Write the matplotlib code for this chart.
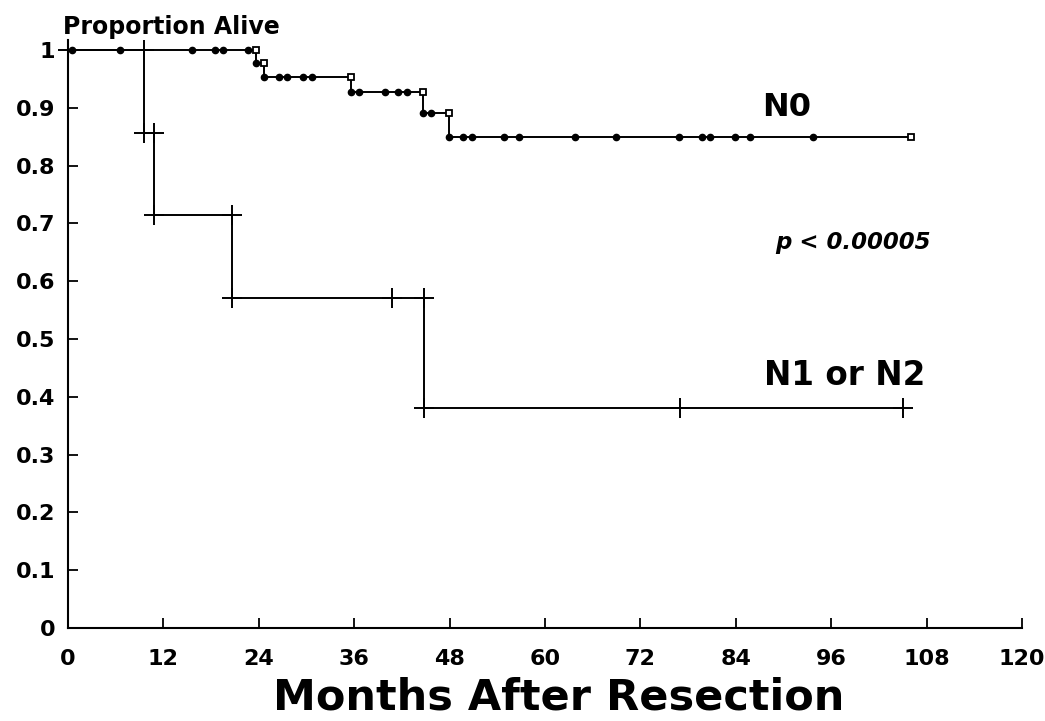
import numpy as np
import matplotlib
matplotlib.use("Agg")
import matplotlib.pyplot as plt

# ---------------- data ----------------
month_ticks = [0, 12, 24, 36, 48, 60, 72, 84, 96, 108, 120]
surv_ticks = [0, 0.1, 0.2, 0.3, 0.4, 0.5, 0.6, 0.7, 0.8, 0.9, 1.0]
surv_tick_labels = ["0", "0.1", "0.2", "0.3", "0.4", "0.5", "0.6", "0.7", "0.8", "0.9", "1"]

# N0 group: Kaplan-Meier steps
n0_times = [0.0, 23.6, 24.7, 35.6, 44.7, 47.9]
n0_surv = [1.0, 0.977, 0.953, 0.928, 0.891, 0.849]
n0_last_followup = 106.0
n0_censored = [0.5, 6.6, 15.6, 18.5, 19.5, 22.6, 23.6, 24.7, 26.5, 27.5, 29.6, 30.7,
               35.6, 36.6, 39.9, 41.5, 42.6, 44.7, 45.7, 47.9, 49.7, 50.8, 54.9, 56.7,
               63.8, 68.9, 76.9, 79.8, 80.8, 83.9, 85.8, 93.7]

# N1 or N2 group
n1_times = [0.0, 9.6, 10.8, 20.6, 44.8]
n1_surv = [1.0, 0.857, 0.714, 0.571, 0.381]
n1_last_followup = 105.0
n1_censored = [40.8, 77.0, 105.0]

label_n0 = "N0"
label_n1 = "N1 or N2"
p_text = "p < 0.00005"
y_title = "Proportion Alive"
x_title = "Months After Resection"


def km_value(times, surv, t):
    idx = np.searchsorted(np.asarray(times), t, side="right") - 1
    return np.asarray(surv)[idx]


# ---------------- figure ----------------
fig = plt.figure(figsize=(10.45, 7.21), dpi=100)
ax = fig.add_axes([68 / 1045, 93 / 721, 954 / 1045, 588 / 721])
ax.set_xlim(0, 120)
ax.set_ylim(0, 1.0173)

lw = 1.4

# N0 curve
x0 = list(n0_times) + [n0_last_followup]
y0 = list(n0_surv) + [n0_surv[-1]]
ax.plot(x0, y0, drawstyle="steps-post", color="black", lw=lw, zorder=3)
cy0 = km_value(n0_times, n0_surv, np.array(n0_censored))
ax.plot(n0_censored, cy0, "o", color="black", ms=4.5, zorder=4, clip_on=False)
ev_x = list(n0_times[1:]) + [n0_last_followup]
ev_y = list(n0_surv[:-1]) + [n0_surv[-1]]
ax.plot(ev_x, ev_y, "s", mfc="white", mec="black", mew=1.3, ms=4.5, zorder=5, clip_on=False)

# N1 or N2 curve
x1 = list(n1_times) + [n1_last_followup]
y1 = list(n1_surv) + [n1_surv[-1]]
ax.plot(x1, y1, drawstyle="steps-post", color="black", lw=lw, zorder=3)
cross_x = [n1_times[0]]
cross_y = [n1_surv[0]]
for i in range(1, len(n1_times)):
    cross_x += [n1_times[i], n1_times[i]]
    cross_y += [n1_surv[i - 1], n1_surv[i]]
cross_x += list(n1_censored)
cross_y += list(km_value(n1_times, n1_surv, np.array(n1_censored)))
ax.plot(cross_x, cross_y, "+", color="black", ms=15, mew=1.4, zorder=4, clip_on=False)

# axes styling
for s in ["top", "right"]:
    ax.spines[s].set_visible(False)
for s in ["left", "bottom"]:
    ax.spines[s].set_linewidth(1.5)
ax.set_xticks(month_ticks)
ax.set_xticklabels([str(m) for m in month_ticks])
ax.set_yticks(surv_ticks)
ax.set_yticklabels(surv_tick_labels)
ax.tick_params(axis="both", direction="in", length=7, width=1.3, labelsize=16)
ax.tick_params(axis="x", pad=15)
ax.tick_params(axis="y", pad=9)
for lab in ax.get_xticklabels() + ax.get_yticklabels():
    lab.set_fontfamily("DejaVu Sans")
    lab.set_fontweight("bold")

# texts
ax.text(87.3, 0.885, label_n0, fontsize=23, fontweight="bold", family="DejaVu Sans",
        ha="left", va="baseline")
ax.text(87.5, 0.42, label_n1, fontsize=23.5, fontweight="bold", family="DejaVu Sans",
        ha="left", va="baseline")
ax.text(88.9, 0.655, p_text, fontsize=16.5, fontweight="bold", style="italic",
        family="DejaVu Sans", ha="left", va="baseline")

fig.text(63 / 1045, 1 - 34 / 721, y_title, fontsize=17, fontweight="bold",
         family="DejaVu Sans", ha="left", va="baseline")
fig.text(559 / 1045, 1 - 709 / 721, x_title, fontsize=31, fontweight="bold",
         family="DejaVu Sans", ha="center", va="baseline")

fig.savefig("out.png", dpi=100)
